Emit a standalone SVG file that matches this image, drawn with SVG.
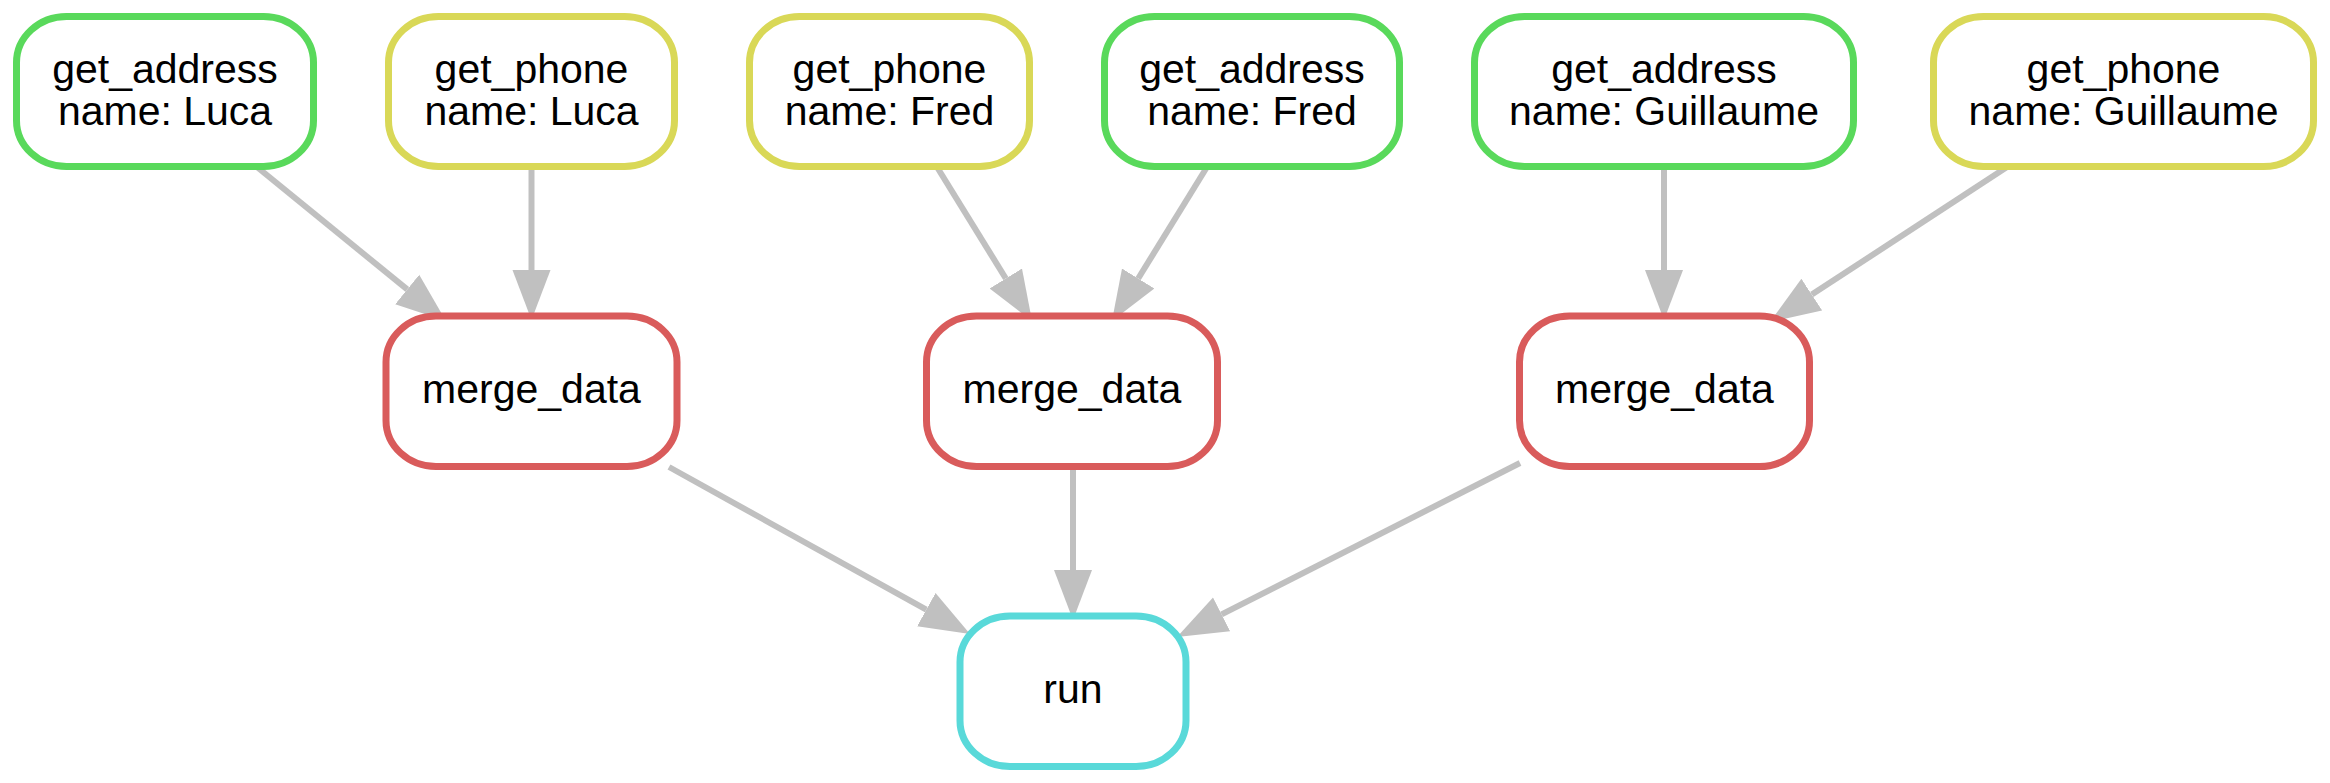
<svg xmlns="http://www.w3.org/2000/svg" width="2330" height="783" viewBox="0 0 2330 783">
<defs>
<style>
.n rect{fill:#ffffff;stroke-width:7}
.green rect{stroke:#59d95b}
.yellow rect{stroke:#d9d857}
.red rect{stroke:#d95b5b}
.cyan rect{stroke:#59d9d9}
.n text{font-family:"Liberation Sans",Arial,Helvetica,sans-serif;font-size:41px;fill:#000000;text-anchor:middle}
.e line{stroke:#c0c0c0;stroke-width:6;fill:none;marker-end:url(#arr)}
</style>
<marker id="arr" markerUnits="userSpaceOnUse" viewBox="0 0 50 40" markerWidth="50" markerHeight="40" refX="0" refY="20" orient="auto">
<path d="M0,1 L50,20 L0,39 Z" fill="#c0c0c0"/>
</marker>
</defs>
<rect x="0" y="0" width="2330" height="783" fill="#ffffff"/>
<g id="connectors" class="e">
<line x1="257" y1="167" x2="407.2" y2="289.4"/>
<line x1="531.5" y1="167" x2="531.5" y2="270"/>
<line x1="937" y1="167" x2="1005.8" y2="278.5"/>
<line x1="1207" y1="167" x2="1138.2" y2="278.5"/>
<line x1="1664" y1="167" x2="1664" y2="270"/>
<line x1="2007" y1="167" x2="1811.8" y2="294.6"/>
<line x1="669" y1="467" x2="926.3" y2="609.7"/>
<line x1="1073" y1="467" x2="1073" y2="570"/>
<line x1="1520" y1="463" x2="1221.6" y2="614.4"/>
</g>
<g id="get_address_luca" class="n green">
<rect x="16.5" y="16.5" width="297" height="150" rx="50" ry="46"/>
<text x="165" y="83">get_address</text>
<text x="165" y="125">name: Luca</text>
</g>
<g id="get_phone_luca" class="n yellow">
<rect x="388.5" y="16.5" width="286" height="150" rx="50" ry="46"/>
<text x="531.5" y="83">get_phone</text>
<text x="531.5" y="125">name: Luca</text>
</g>
<g id="get_phone_fred" class="n yellow">
<rect x="749.5" y="16.5" width="280" height="150" rx="50" ry="46"/>
<text x="889.5" y="83">get_phone</text>
<text x="889.5" y="125">name: Fred</text>
</g>
<g id="get_address_fred" class="n green">
<rect x="1104.5" y="16.5" width="295" height="150" rx="50" ry="46"/>
<text x="1252" y="83">get_address</text>
<text x="1252" y="125">name: Fred</text>
</g>
<g id="get_address_guillaume" class="n green">
<rect x="1474.5" y="16.5" width="379" height="150" rx="50" ry="46"/>
<text x="1664" y="83">get_address</text>
<text x="1664" y="125">name: Guillaume</text>
</g>
<g id="get_phone_guillaume" class="n yellow">
<rect x="1933.5" y="16.5" width="380" height="150" rx="50" ry="46"/>
<text x="2123.5" y="83">get_phone</text>
<text x="2123.5" y="125">name: Guillaume</text>
</g>
<g id="merge_data_luca" class="n red">
<rect x="386" y="316" width="291" height="150.5" rx="50" ry="46"/>
<text x="531.5" y="403">merge_data</text>
</g>
<g id="merge_data_fred" class="n red">
<rect x="926.5" y="316" width="291" height="150.5" rx="50" ry="46"/>
<text x="1072" y="403">merge_data</text>
</g>
<g id="merge_data_guillaume" class="n red">
<rect x="1519.5" y="316" width="290" height="150.5" rx="50" ry="46"/>
<text x="1664.5" y="403">merge_data</text>
</g>
<g id="run" class="n cyan">
<rect x="960" y="616" width="226" height="150.5" rx="50" ry="46"/>
<text x="1073" y="703">run</text>
</g>
</svg>
